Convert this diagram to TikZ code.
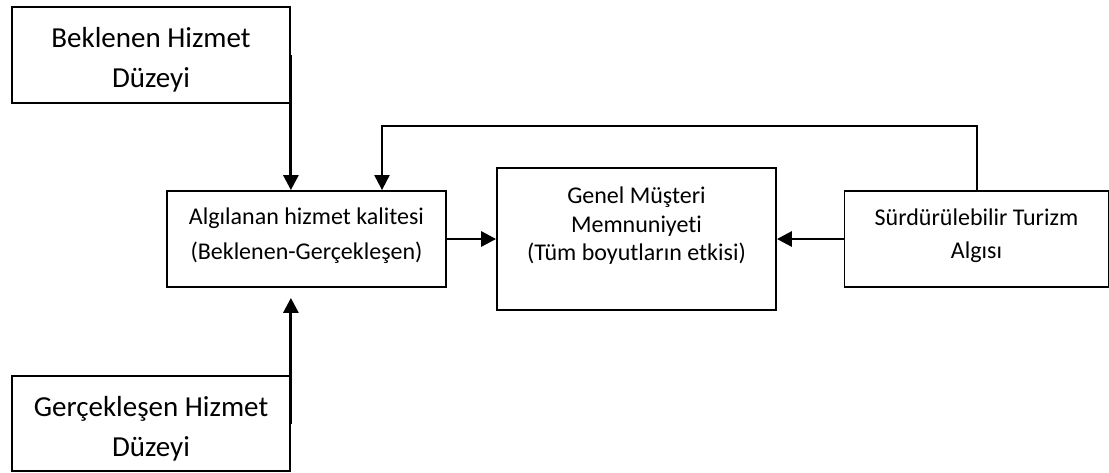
\documentclass[tikz,border=0pt]{standalone}
\usepackage{fontspec}
\setmainfont{Carlito}[RawFeature={-liga}]
\usetikzlibrary{arrows.meta}
\tikzset{
  box/.style={draw=black, line width=1.8pt, fill=white, inner sep=0pt},
  bigtxt/.style={align=center, inner sep=0pt, font=\fontsize{29}{40}\selectfont},
  midtxt/.style={align=center, inner sep=0pt, font=\fontsize{24}{35}\selectfont},
  arr/.style={line width=2.9pt, -{Triangle[length=15pt,width=15pt]}},
  fbarr/.style={line width=2pt, -{Triangle[length=15pt,width=15pt]}}
}
\begin{document}
\begin{tikzpicture}[x=1pt,y=-1pt]
\useasboundingbox (0,0) rectangle (1109,472);
% boxes
\node[box, minimum width=278pt, minimum height=96pt] (b1) at (151,55) {};
\node[box, minimum width=279pt, minimum height=96pt] (b2) at (306.5,239) {};
\node[box, minimum width=279pt, minimum height=142pt] (b3) at (636.5,239) {};
\node[box, minimum width=264pt, minimum height=96pt] (b4) at (976.5,239) {};
\node[box, minimum width=278pt, minimum height=95pt] (b5) at (151,423.5) {};
% texts
\node[bigtxt] (t1) at (151,60) {Beklenen Hizmet\\Düzeyi};
\node[midtxt] (t2) at (306.5,236) {Algılanan hizmet kalitesi\\(Beklenen-Gerçekleşen)};
\node[midtxt, font=\fontsize{24}{28.5}\selectfont] (t3) at (636.5,226) {Genel Müşteri\\Memnuniyeti\\(Tüm boyutların etkisi)};
\node[midtxt, font=\fontsize{24}{33}\selectfont] (t4) at (976.5,236) {Sürdürülebilir Turizm\\Algısı};
\node[bigtxt] (t5) at (151,429) {Gerçekleşen Hizmet\\Düzeyi};
% connectors
\draw[arr] (b1.east) -- (b1.east |- b2.north);
\draw[arr, shorten >=10pt] (b5.east) -- (b5.east |- b2.south);
\draw[arr] (b2.east) -- (b3.west);
\draw[arr] (b4.west) -- (b3.east);
\coordinate (k1) at (382,126);
\draw[fbarr] (b4.north) |- (k1) -- (k1 |- b2.north);
\end{tikzpicture}
\end{document}
